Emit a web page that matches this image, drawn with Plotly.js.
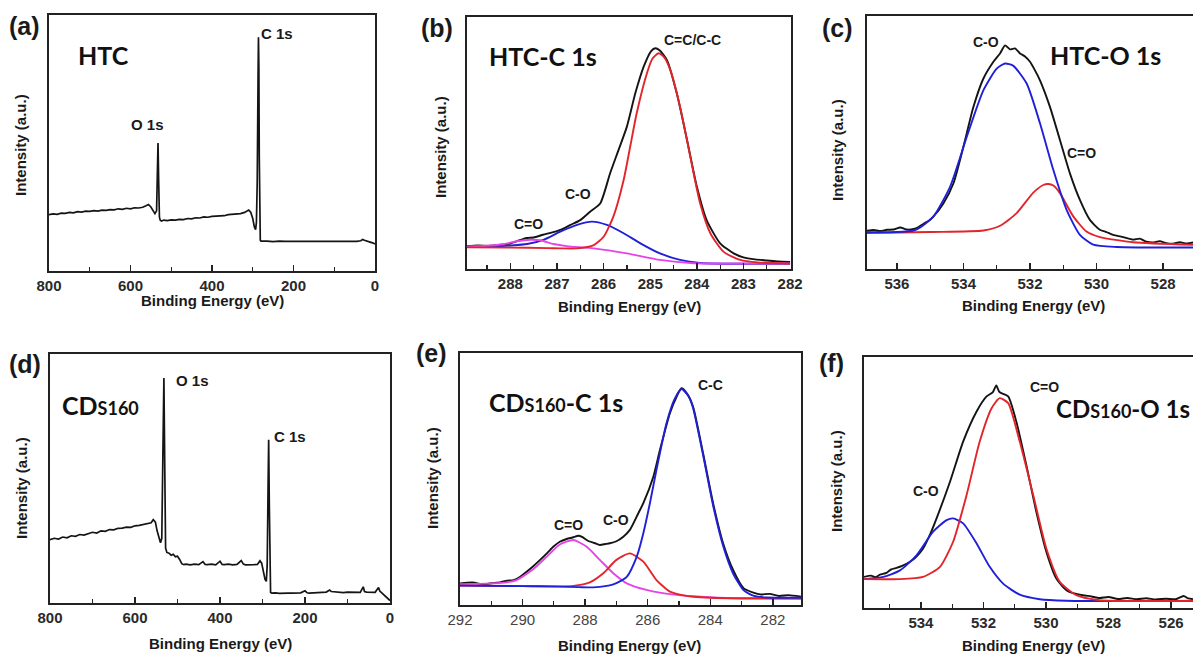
<!DOCTYPE html>
<html>
<head>
<meta charset="utf-8">
<script src="https://cdn.plot.ly/plotly-3.0.1.min.js"></script>
<style>html,body{margin:0;padding:0;background:#fff;}#chart{width:1193px;height:654px;}</style>
</head>
<body>
<div id="chart"></div>
<script>
// ---------- DATA (binding energy eV, intensity in % of panel height) ----------
// (a) HTC survey
const htcSurvey = [[800,22.0],[790,22.3],[780,22.1],[770,22.6],[760,22.5],[750,22.9],[740,22.7],[730,23.2],[720,23.0],[710,23.4],[700,23.3],[690,23.6],[680,23.4],[670,23.8],[660,23.7],[650,24.0],[640,23.9],[630,24.3],[620,24.1],[610,24.5],[600,24.3],[590,24.7],[580,24.6],[570,24.9],[562,25.5],[556,26.0],[550,25.0],[545,23.8],[540,22.4],[536,23.5],[534,38],[532.5,50.0],[531,36],[529,21],[527,19.8],[524,19.5],[518,19.9],[510,19.7],[500,20.0],[490,19.9],[480,20.2],[470,20.1],[460,20.5],[450,20.4],[440,20.8],[430,20.7],[420,21.1],[410,21.0],[400,21.3],[390,21.4],[380,21.7],[370,21.6],[360,22.0],[350,22.1],[340,22.3],[330,22.4],[320,22.9],[314,23.6],[310,23.8],[305,23.0],[300,20.5],[296,17.2],[293,16.2],[291,19],[289,35],[287,75],[286,91.3],[285,80],[284,45],[283,20],[281.5,12.0],[280,11.7],[275,11.6],[265,11.7],[250,11.5],[235,11.7],[220,11.6],[200,11.6],[180,11.5],[160,11.7],[140,11.6],[120,11.5],[100,11.6],[80,11.5],[60,11.6],[45,11.6],[35,11.8],[30,12.3],[26,12.0],[20,11.6],[12,11.3],[6,11.0],[0,10.6]];

// (b) HTC C 1s
const htcC1sTotal = [[288.93,9.0],[288.7,9.3],[288.45,9.2],[288.2,9.6],[288.0,10.1],[287.8,11.4],[287.65,12.3],[287.5,12.5],[287.3,13.6],[287.1,14.5],[286.93,15.5],[286.71,17.5],[286.5,19.4],[286.29,22.7],[286.07,26.1],[285.86,38.0],[285.68,47.2],[285.5,56.5],[285.32,69.7],[285.14,80.3],[284.98,86.5],[284.89,87.6],[284.8,86.8],[284.64,82.9],[284.43,69.7],[284.21,51.2],[284.0,32.7],[283.79,19.4],[283.5,10.2],[283.21,6.2],[283.0,4.6],[282.75,3.8],[282.5,3.4],[282.25,3.0],[282.0,2.8]];
const htcC1sCC = [[288.93,8.6],[288.0,8.5],[287.2,8.3],[286.93,8.2],[286.57,8.2],[286.21,9.5],[286.0,12.8],[285.79,20.8],[285.57,35.3],[285.43,48.5],[285.29,61.8],[285.07,77.7],[284.95,83.5],[284.82,85.6],[284.7,84.0],[284.57,79.0],[284.36,64.4],[284.14,44.6],[283.93,26.1],[283.71,14.2],[283.43,6.9],[283.07,3.6],[282.7,2.6],[282.0,2.2]];
const htcC1sCO = [[288.93,8.7],[288.5,8.8],[288.0,9.3],[287.64,9.9],[287.29,11.6],[286.93,14.8],[286.57,17.5],[286.25,18.8],[285.93,17.5],[285.57,14.2],[285.21,10.2],[284.79,6.2],[284.36,3.6],[283.93,2.4],[283.3,2.1],[282.0,2.1]];
const htcC1sCdO = [[288.93,8.9],[288.5,9.2],[288.2,9.7],[287.86,11.0],[287.57,11.6],[287.36,11.4],[287.07,9.9],[286.79,9.1],[286.21,8.2],[285.5,6.2],[284.79,3.6],[284.07,2.3],[283.3,2.2],[282.0,2.2]];

// (c) HTC O 1s
const htcO1sTotal = [[536.9,15.1],[536.7,15.4],[536.5,15.0],[536.3,15.5],[536.1,15.6],[535.9,16.4],[535.7,15.6],[535.5,15.8],[535.35,16.6],[535.2,17.9],[535.05,19.0],[534.9,20.8],[534.6,26.0],[534.3,33.9],[534.0,48.4],[533.7,64.1],[533.4,75.3],[533.1,81.9],[532.9,85.2],[532.75,88.4],[532.6,86.8],[532.45,87.2],[532.3,85.2],[532.15,84.0],[532.0,81.9],[531.85,78.5],[531.7,74.6],[531.4,64.1],[531.1,51.0],[530.8,37.8],[530.5,27.3],[530.2,19.4],[529.9,15.5],[529.7,14.6],[529.5,13.5],[529.2,12.6],[528.9,11.6],[528.7,12.0],[528.5,10.8],[528.3,10.5],[528.1,11.0],[527.9,10.2],[527.7,10.0],[527.5,10.6],[527.3,10.1],[527.1,10.5]];
const htcO1sCO = [[536.9,14.5],[536.0,14.6],[535.5,15.2],[535.3,16.4],[534.9,20.8],[534.4,32.6],[533.9,52.3],[533.4,70.7],[533.0,79.2],[532.75,81.2],[532.5,80.3],[532.1,73.3],[531.7,57.6],[531.3,39.2],[530.9,23.4],[530.5,13.5],[530.1,9.6],[529.4,8.7],[527.1,8.5]];
const htcO1sCdO = [[536.9,14.2],[535.0,14.6],[533.4,15.2],[532.9,17.1],[532.4,22.1],[531.9,30.2],[531.6,33.2],[531.45,33.6],[531.3,33.0],[531.1,30.0],[530.7,20.8],[530.3,14.8],[529.9,12.6],[528.9,10.6],[527.1,9.6]];

// (d) CDs160 survey
const cdsSurvey = [[800,25.4],[790,26.0],[780,25.7],[770,26.5],[760,26.2],[750,27.0],[740,26.8],[730,27.5],[720,27.3],[710,28.0],[700,28.4],[690,28.1],[680,29.0],[670,28.8],[660,29.5],[650,29.4],[640,30.0],[630,30.1],[620,30.5],[610,30.4],[600,31.0],[590,31.2],[580,31.5],[570,31.7],[562,32.2],[557,33.5],[552,32.5],[548,29.0],[544,26.0],[540,24.2],[537,26],[534,60],[532,90.4],[530,55],[528,22],[525,20.3],[520,20.0],[515,19.2],[510,19.6],[505,18.6],[500,18.8],[495,17.5],[490,15.8],[485,15.4],[480,15.6],[470,15.3],[460,15.6],[450,15.4],[440,16.6],[435,15.5],[430,15.4],[420,15.6],[410,15.3],[400,16.8],[395,15.5],[390,15.4],[380,15.6],[370,15.3],[360,15.5],[350,17.0],[345,15.6],[340,15.3],[330,15.2],[320,15.4],[312,15.5],[306,17.0],[302,16.0],[298,13.0],[294,9.5],[291,8.7],[289,15],[287,45],[285.5,65.6],[284,40],[282.5,12],[281,4.2],[278,4.0],[270,4.1],[260,3.9],[250,4.1],[240,4.0],[230,4.0],[220,4.2],[210,4.1],[200,4.9],[195,4.1],[190,4.0],[180,4.2],[170,4.1],[160,4.3],[150,4.4],[142,5.2],[138,4.6],[130,4.4],[120,4.3],[110,4.2],[100,4.4],[90,4.3],[80,4.4],[70,4.3],[63,6.5],[60,4.6],[55,4.4],[45,4.5],[35,4.3],[30,5.5],[27,6.2],[24,4.8],[20,4.2],[15,3.5],[10,2.5],[5,1.8],[0,1.0]];

// (e) CDs160 C 1s
const cdsC1sTotal = [[292,8.6],[291.6,8.9],[291.25,8.2],[290.9,8.8],[290.72,9.0],[290.5,9.6],[290.29,9.9],[290.1,11.0],[289.87,13.2],[289.65,15.5],[289.44,17.9],[289.2,20.8],[289.01,23.2],[288.81,25.1],[288.59,26.2],[288.4,26.8],[288.21,27.5],[288.1,27.0],[287.9,25.4],[287.7,24.6],[287.53,23.8],[287.35,24.2],[287.21,24.5],[287.0,25.3],[286.78,27.1],[286.57,29.8],[286.3,36.4],[286.14,40.4],[285.82,50.9],[285.61,61.5],[285.29,76.1],[285.07,82.8],[284.92,86.0],[284.75,84.0],[284.55,78.7],[284.23,60.2],[283.91,40.4],[283.59,24.5],[283.27,13.9],[282.93,6.6],[282.6,4.8],[282.4,4.2],[282.1,4.4],[281.8,3.6],[281.5,3.9],[281.1,3.3]];
const cdsC1sCC = [[292,7.7],[290,7.5],[288.81,7.3],[288.2,7.1],[287.74,7.0],[287.1,8.2],[286.67,11.2],[286.35,19.2],[286.14,28.5],[285.93,40.4],[285.72,53.6],[285.4,72.1],[285.15,81.5],[284.92,85.7],[284.7,83.0],[284.55,78.2],[284.23,59.5],[283.91,39.5],[283.59,23.5],[283.27,12.5],[282.93,5.8],[282.6,3.6],[282.2,3.0],[281.1,2.9]];
const cdsC1sCO = [[292,7.7],[290,7.5],[288.9,7.4],[288.38,7.6],[287.85,9.0],[287.42,12.6],[287.0,17.9],[286.57,20.5],[286.14,17.2],[285.72,9.9],[285.29,5.3],[284.85,3.8],[284.55,3.3],[284.0,2.9],[283.0,2.7],[281.1,2.6]];
const cdsC1sCdO = [[292,8.3],[291,8.6],[290.5,9.0],[290.19,9.9],[289.65,14.3],[289.12,20.5],[288.81,24.0],[288.38,25.8],[287.95,23.1],[287.53,17.9],[287.1,12.6],[286.67,8.6],[286.04,6.0],[285.08,4.0],[284.01,3.1],[283.05,2.6],[281.1,2.6]];

// (f) CDs160 O 1s
const cdsO1sTotal = [[535.82,12.4],[535.6,12.9],[535.45,12.3],[535.31,13.3],[535.1,14.0],[534.95,15.4],[534.78,16.0],[534.6,16.8],[534.35,18.4],[534.15,20.4],[533.93,23.7],[533.7,29.5],[533.5,35.7],[533.07,50.3],[532.65,66.3],[532.22,78.3],[531.9,84.3],[531.7,86.0],[531.59,88.7],[531.5,86.2],[531.43,85.6],[531.21,84.3],[530.95,74.3],[530.63,57.0],[530.31,38.3],[529.99,22.4],[529.67,11.7],[529.35,7.1],[529.1,5.8],[528.82,5.1],[528.55,4.6],[528.29,4.0],[528.0,4.4],[527.7,3.6],[527.4,4.0],[527.1,3.5],[526.8,3.9],[526.5,3.4],[526.16,3.7],[525.85,3.5],[525.6,4.8],[525.45,3.8],[525.3,3.5]];
const cdsO1sCdO = [[535.82,11.5],[534.67,11.5],[533.93,12.4],[533.39,16.4],[532.97,26.4],[532.54,45.0],[532.12,66.3],[531.74,79.6],[531.48,83.6],[531.21,81.6],[530.84,66.3],[530.41,45.0],[529.99,23.7],[529.56,10.4],[529.03,5.1],[528.29,3.1],[525.3,2.9]];
const cdsO1sCO = [[535.82,11.5],[535.2,12.4],[534.67,15.0],[534.14,21.0],[533.61,30.4],[533.18,35.0],[532.97,35.7],[532.65,33.7],[532.22,25.7],[531.8,16.4],[531.37,9.7],[530.84,5.3],[530.2,3.5],[529.35,2.9],[525.3,2.8]];

// ---------- STYLE ----------
const BLACK = '#141414', RED = '#e3242b', BLUE = '#2020d8', MAG = '#e645e6';
const W = 1193, H = 654;

function tr(pairs, ax, color, width, shape) {
  return {
    x: pairs.map(p => p[0]), y: pairs.map(p => p[1]),
    xaxis: 'x' + ax, yaxis: 'y' + ax, type: 'scatter', mode: 'lines',
    line: {color: color, width: width, shape: shape || 'linear', smoothing: 0.6},
    hoverinfo: 'skip', showlegend: false
  };
}

const traces = [
  tr(htcSurvey, '', BLACK, 1.7),
  tr(htcC1sTotal, '2', BLACK, 1.9, 'spline'),
  tr(htcC1sCO, '2', BLUE, 1.9, 'spline'),
  tr(htcC1sCdO, '2', MAG, 1.9, 'spline'),
  tr(htcC1sCC, '2', RED, 1.9, 'spline'),
  tr(htcO1sTotal, '3', BLACK, 1.9, 'spline'),
  tr(htcO1sCdO, '3', RED, 1.9, 'spline'),
  tr(htcO1sCO, '3', BLUE, 1.9, 'spline'),
  tr(cdsSurvey, '4', BLACK, 1.7),
  tr(cdsC1sTotal, '5', BLACK, 1.9, 'spline'),
  tr(cdsC1sCdO, '5', MAG, 1.9, 'spline'),
  tr(cdsC1sCO, '5', RED, 1.9, 'spline'),
  tr(cdsC1sCC, '5', BLUE, 1.9, 'spline'),
  tr(cdsO1sTotal, '6', BLACK, 1.9, 'spline'),
  tr(cdsO1sCO, '6', BLUE, 1.9, 'spline'),
  tr(cdsO1sCdO, '6', RED, 1.9, 'spline')
];

function dx(l, r) { return [l / W, Math.min(1, r / W)]; }
function dy(t, b) { return [1 - b / H, 1 - t / H]; }

function xax(dom, anchor, range, dtick, minor, bold) {
  return {
    domain: dom, anchor: anchor, range: range, dtick: dtick, tick0: 0,
    ticks: 'inside', ticklen: 6, tickwidth: 1.4, tickcolor: '#222',
    showline: true, linecolor: '#222', linewidth: 2, mirror: true,
    showgrid: false, zeroline: false, fixedrange: true,
    minor: {dtick: minor, tick0: 0, ticks: 'inside', ticklen: 4, tickwidth: 1.2, tickcolor: '#222'},
    tickfont: {family: 'Liberation Sans, Arial, sans-serif', size: 15, color: bold ? '#2a2a2a' : '#444', weight: bold ? 'bold' : 'normal'}
  };
}
function yax(dom, anchor) {
  return {
    domain: dom, anchor: anchor, range: [0, 100], showticklabels: false, ticks: '',
    showline: true, linecolor: '#222', linewidth: 2, mirror: true,
    showgrid: false, zeroline: false, fixedrange: true
  };
}

const anns = [];
function ann(text, px, py, size, opts) {
  opts = opts || {};
  anns.push(Object.assign({
    text: text, x: px / W, y: 1 - py / H, xref: 'paper', yref: 'paper',
    xanchor: 'center', yanchor: 'middle', showarrow: false,
    font: {family: 'Liberation Sans, Arial, sans-serif', size: size, color: '#1a1a1a', weight: 'bold'}
  }, opts));
}
const BIG = {family: 'Lato, Open Sans, sans-serif', size: 25, color: '#111', weight: 'bold'};
const BIGF = {family: 'Lato, Open Sans, sans-serif', size: 24, color: '#111', weight: 'bold'};
const small = s => '<span style="font-size:18px">' + s + '</span>';

// panel letters
[['(a)',24,26],['(b)',437,28],['(c)',837,28],['(d)',25,364],['(e)',431,353],['(f)',832,363]]
  .forEach(a => ann(a[0], a[1], a[2], 25));
// sample names
ann('HTC', 103, 55, 25, {font: BIG});
ann('HTC-C 1s', 543, 56, 25, {font: BIG});
ann('HTC-O 1s', 1105, 55, 25, {font: BIG});
ann('CD' + small('S160'), 100, 405, 25, {font: BIG});
ann('CD' + small('S160') + '-C 1s', 556, 402, 25, {font: BIG});
ann('CD' + small('S160') + '-O 1s', 1054, 408, 24, {font: BIGF, xanchor: 'left'});
// peak labels
ann('O 1s', 147, 124, 15); ann('C 1s', 277, 33, 15);
ann('C=C/C-C', 692, 40, 14); ann('C-O', 578, 194, 14); ann('C=O', 528, 224, 14);
ann('C-O', 986, 42, 14); ann('C=O', 1081, 153, 14);
ann('O 1s', 192, 381, 15); ann('C 1s', 290, 436, 15);
ann('C-C', 710, 385, 14); ann('C=O', 568, 525, 14); ann('C-O', 616, 520, 14);
ann('C=O', 1044, 387, 14); ann('C-O', 926, 491, 14);
// axis titles
[[212,300],[629,306],[1033,305],[220,643],[630,645],[1033,645]].forEach(p => ann('Binding Energy (eV)', p[0], p[1], 15));
[[21,145],[440,147],[838,150],[21,488],[432,478],[836,481]].forEach(p => ann('Intensity (a.u.)', p[0], p[1], 15, {textangle: -90}));

const layout = {
  width: W, height: H, margin: {l: 0, r: 0, t: 0, b: 0},
  paper_bgcolor: '#ffffff', plot_bgcolor: '#ffffff', showlegend: false,
  font: {family: 'Liberation Sans, Arial, sans-serif'},
  xaxis:  xax(dx(49, 375),  'y',  [800, 0], 200, 100, true),
  yaxis:  yax(dy(15, 271),  'x'),
  xaxis2: xax(dx(467, 791), 'y2', [288.93, 281.98], 1, 0.5, true),
  yaxis2: yax(dy(17, 269),  'x2'),
  xaxis3: xax(dx(867, 1193),'y3', [536.9, 527.1], 2, 1, true),
  yaxis3: yax(dy(16, 269),  'x3'),
  xaxis4: xax(dx(50, 390),  'y4', [800, 0], 200, 100, true),
  yaxis4: yax(dy(354, 603), 'x4'),
  xaxis5: xax(dx(460, 801), 'y5', [292, 281.1], 2, 1, false),
  yaxis5: yax(dy(353, 605), 'x5'),
  xaxis6: xax(dx(864, 1193),'y6', [535.82, 525.3], 2, 1, true),
  yaxis6: yax(dy(357, 608), 'x6'),
  annotations: anns
};

Plotly.newPlot('chart', traces, layout, {staticPlot: true, displayModeBar: false});
</script>
</body>
</html>
